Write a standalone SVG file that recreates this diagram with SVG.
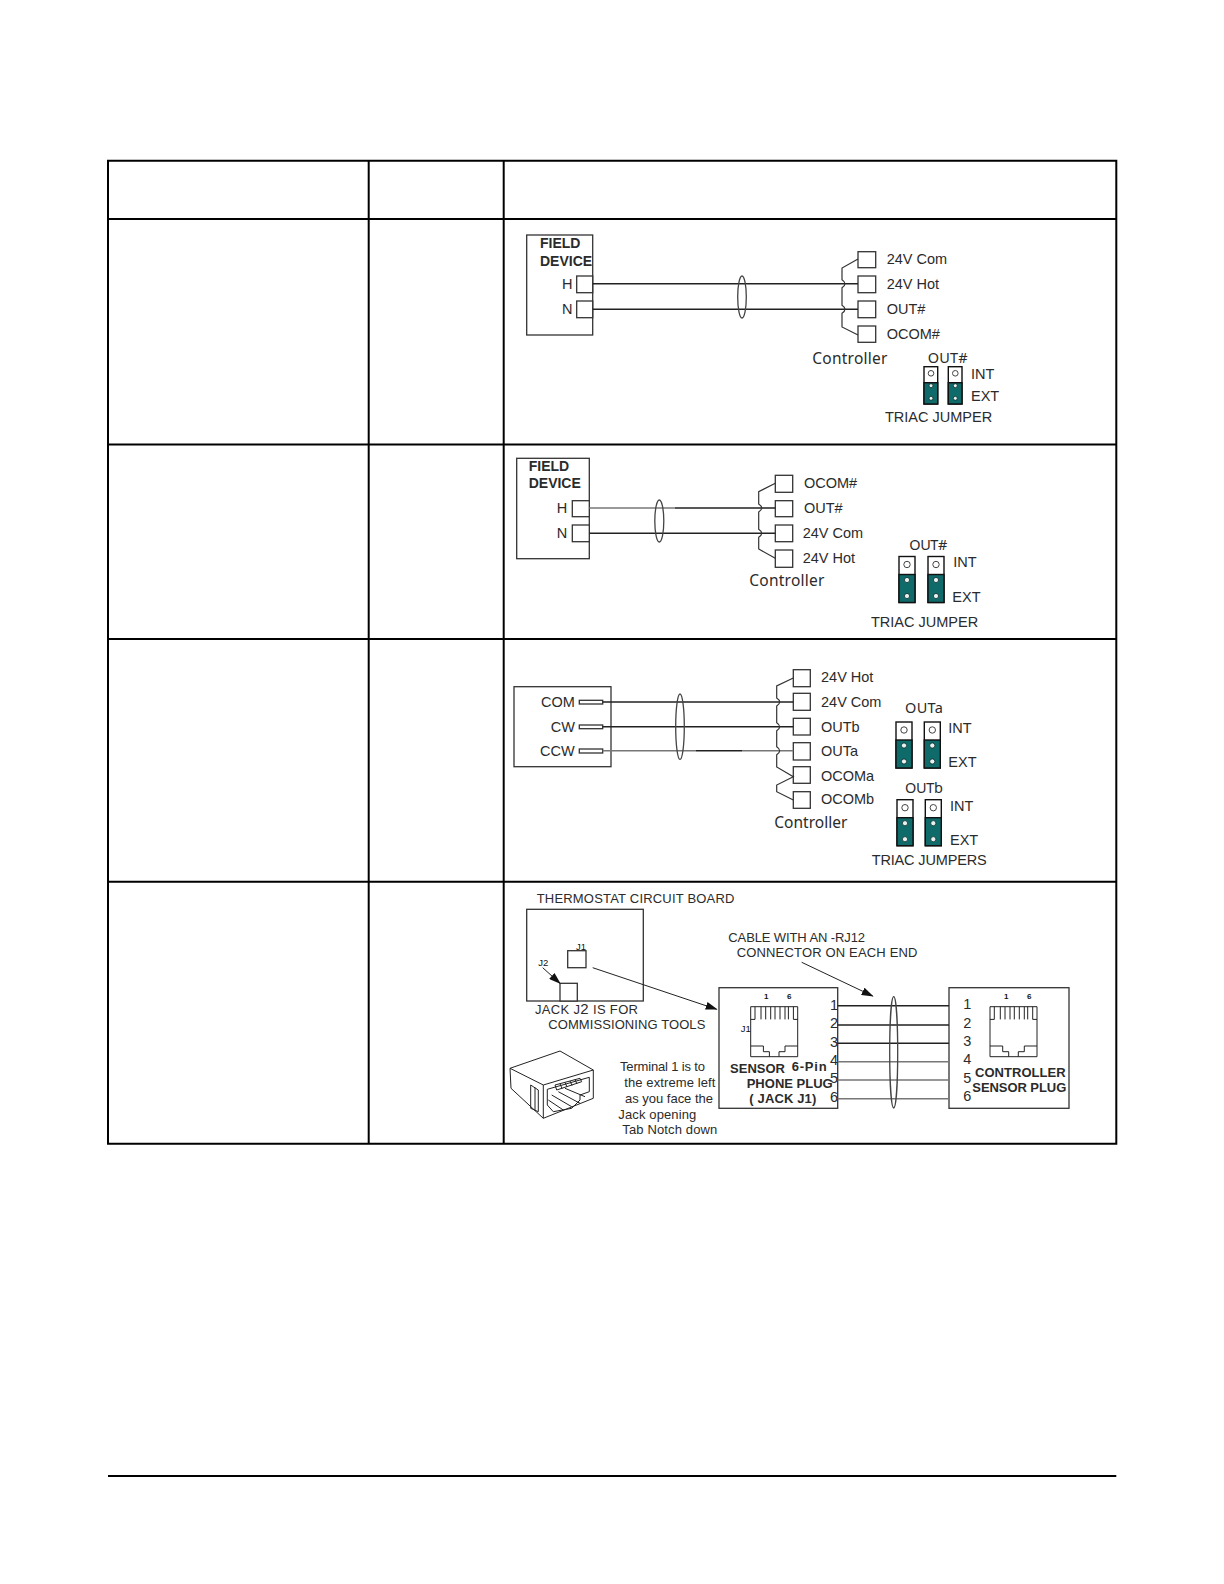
<svg xmlns="http://www.w3.org/2000/svg" width="1224" height="1584" viewBox="0 0 1224 1584">
<style>
text{font-family:"Liberation Sans",Arial,sans-serif;font-size:14.5px;fill:#2b2b2b}
.b{font-weight:bold;font-size:13px}
.c{font-family:"Noto Sans",sans-serif;font-size:14.5px}
.cc{font-family:"Noto Sans",sans-serif;font-size:15.5px}
.s{font-size:13px}
.t{font-size:8px;fill:#111}
.j{font-size:9.5px;fill:#111}
.box{fill:#fff;stroke:#333;stroke-width:1.3}
.grid{stroke:#000;stroke-width:2;fill:none}
.w{stroke:#222;stroke-width:1.4;fill:none}
.g{stroke:#777;stroke-width:1.4;fill:none}
.br{stroke:#333;stroke-width:1.2;fill:none}
.el{fill:none;stroke:#444;stroke-width:1.3}
.jb{fill:#fff;stroke:#111;stroke-width:1.4}
.jg{fill:#0f6a6a;stroke:#111;stroke-width:1.4}
.ho{fill:#fff;stroke:#444;stroke-width:1}
.hd{fill:#e8f0f0;stroke:#0a2a2a;stroke-width:.8}
.l{stroke:#222;stroke-width:1;fill:none}
</style>
<defs>
<marker id="ah" viewBox="0 0 12 8" refX="11" refY="4" markerWidth="12" markerHeight="8" markerUnits="userSpaceOnUse" orient="auto"><path d="M0,0L12,4L0,8Z" fill="#111"/></marker>
<g id="jumper">
<rect class="jb" x="0" y="0" width="16" height="46"/>
<rect class="jg" x="0" y="18" width="16" height="28"/>
<circle class="ho" cx="8" cy="8" r="3.2"/>
<circle class="hd" cx="8" cy="23.5" r="2.6"/>
<circle class="hd" cx="8" cy="39.5" r="2.6"/>
</g>
<g id="jumpersm">
<rect class="jb" x="0" y="0" width="13.7" height="37.3"/>
<rect class="jg" x="0" y="16" width="13.7" height="21.3"/>
<circle class="ho" cx="7" cy="6.6" r="2.8"/>
<circle class="hd" cx="7" cy="19" r="2"/>
<circle class="hd" cx="7" cy="31.6" r="2"/>
</g>
<g id="rj">
<path class="l" d="M0,0H47V50H0Z"/>
<path class="l" d="M0,12.7H4.3V0M42.7,0V12.7H47M10.3,0V12.7M15,0V12.7M20,0V12.7M24.3,0V12.7M29.3,0V12.7M34.3,0V12.7M37.7,0V12.7"/>
<path class="l" d="M0,39.3H12.7V45H18.7V50M47,39.3H34.3V45H28.3V50"/>
</g>
</defs>
<rect width="1224" height="1584" fill="#fff"/>

<g id="table">
<path class="grid" d="M108,160.7H1116.3V1143.7H108ZM368.7,160.7V1143.7M108,219H1116.3M108,444.5H1116.3M108,639H1116.3M108,881.7H1116.3"/>
<path class="grid" stroke-width="1" d="M503.7,160.7V1143.7"/>
<path class="grid" d="M108,1476H1116.3"/>
</g>

<g id="field-device-1">
<rect class="box" x="526.7" y="235" width="66" height="100"/>
<rect class="box" x="576.7" y="276" width="16" height="16.7"/>
<rect class="box" x="576.7" y="301" width="16" height="16.7"/>
<text class="b" x="540" y="248" style="font-size:14px">FIELD</text>
<text class="b" x="540" y="265.7" style="font-size:14px">DEVICE</text>
<text x="562" y="289">H</text>
<text x="562" y="314">N</text>
</g>
<g id="controller-1">
<rect class="box" x="858" y="251.7" width="17.7" height="16"/>
<rect class="box" x="858" y="276" width="17.7" height="16.7"/>
<rect class="box" x="858" y="301" width="17.7" height="16.7"/>
<rect class="box" x="858" y="326" width="17.7" height="16.3"/>
<text x="886.7" y="264.3">24V Com</text>
<text x="886.7" y="289">24V Hot</text>
<text x="886.7" y="314">OUT#</text>
<text x="886.7" y="339">OCOM#</text>
<text class="cc" x="812.3" y="364" textLength="75">Controller</text>
</g>
<g id="jumper-1">
<text class="c" x="927.7" y="362.7" textLength="40">OUT#</text>
<use href="#jumpersm" x="924" y="366.7"/>
<use href="#jumpersm" x="948.3" y="366.7"/>
<text x="971" y="379">INT</text>
<text x="971" y="401">EXT</text>
<text x="885" y="422.3">TRIAC JUMPER</text>
</g>

<g id="field-device-2">
<rect class="box" x="516.7" y="458.3" width="72.6" height="100.4"/>
<rect class="box" x="572.3" y="500.7" width="17" height="16"/>
<rect class="box" x="572.3" y="525" width="17" height="16.7"/>
<text class="b" x="528.7" y="470.7" style="font-size:14px">FIELD</text>
<text class="b" x="528.7" y="488.3" style="font-size:14px">DEVICE</text>
<text x="556.7" y="513.3">H</text>
<text x="556.7" y="538.3">N</text>
</g>
<g id="controller-2">
<rect class="box" x="775.3" y="475.3" width="17.4" height="17"/>
<rect class="box" x="775.3" y="500.7" width="17.4" height="16"/>
<rect class="box" x="775.3" y="525" width="17.4" height="16.7"/>
<rect class="box" x="775.3" y="550" width="17.4" height="17.3"/>
<text x="804" y="488.3">OCOM#</text>
<text x="804" y="513.3">OUT#</text>
<text x="802.7" y="538.3">24V Com</text>
<text x="802.7" y="563.3">24V Hot</text>
<text class="cc" x="749.3" y="585.7" textLength="75">Controller</text>
</g>
<g id="jumper-2">
<text class="c" x="909.3" y="550" textLength="38">OUT#</text>
<use href="#jumper" x="899" y="556.5"/>
<use href="#jumper" x="928" y="556.5"/>
<text x="953.3" y="567.3">INT</text>
<text x="952.3" y="602.3">EXT</text>
<text x="871" y="626.7">TRIAC JUMPER</text>
</g>

<g id="actuator-3">
<rect class="box" x="514" y="686.7" width="97" height="80"/>
<rect class="box" x="579.3" y="700.3" width="23.4" height="3.7"/>
<rect class="box" x="579.3" y="725" width="23.4" height="3.7"/>
<rect class="box" x="579.3" y="749" width="23.4" height="4"/>
<text x="541" y="707.3">COM</text>
<text x="550.7" y="731.7">CW</text>
<text x="540" y="755.7">CCW</text>
</g>
<g id="controller-3">
<rect class="box" x="793.3" y="669.7" width="17" height="17"/>
<rect class="box" x="793.3" y="693.3" width="17" height="17"/>
<rect class="box" x="793.3" y="718.3" width="17" height="16.7"/>
<rect class="box" x="793.3" y="742.7" width="17" height="17.3"/>
<rect class="box" x="793.3" y="766.7" width="17" height="16.6"/>
<rect class="box" x="793.3" y="791.7" width="17" height="16.6"/>
<text x="821" y="682.3">24V Hot</text>
<text x="821" y="707.3">24V Com</text>
<text x="821" y="731.7">OUTb</text>
<text x="821" y="755.7">OUTa</text>
<text x="821" y="780.7">OCOMa</text>
<text x="821" y="804.3">OCOMb</text>
<text class="cc" x="774.3" y="827.7" textLength="73">Controller</text>
</g>
<g id="jumper-3">
<text class="c" x="905" y="712.7" textLength="38">OUTa</text>
<use href="#jumper" x="896" y="722"/>
<use href="#jumper" x="924.3" y="722"/>
<text x="948.3" y="733.3">INT</text>
<text x="948.3" y="767.3">EXT</text>
<text class="c" x="905" y="792.7" textLength="38">OUTb</text>
<use href="#jumper" x="897" y="799.7"/>
<use href="#jumper" x="925.3" y="799.7"/>
<text x="950" y="810.7">INT</text>
<text x="950" y="845">EXT</text>
<text x="871.7" y="865" textLength="115">TRIAC JUMPERS</text>
</g>

<g id="thermostat-board">
<text class="s" x="536.7" y="903.3" textLength="197.7">THERMOSTAT CIRCUIT BOARD</text>
<rect class="box" x="526.7" y="909.3" width="116.6" height="91.7"/>
<rect class="box" x="567.7" y="950.7" width="18.3" height="17"/>
<rect class="box" x="560" y="983.3" width="17.3" height="17.7"/>
<text class="j" x="576" y="949.7">J1</text>
<text class="j" x="538.3" y="965.7">J2</text>
<text class="s" x="535" y="1014" textLength="103">JACK J<tspan style="font-size:15px">2</tspan> IS FOR</text>
<text class="s" x="548.3" y="1029.3" textLength="157">COMMISSIONING TOOLS</text>
</g>

<g id="jack-icon">
<path class="l" stroke-width="1.2" d="M510,1068.3L560,1051L593.3,1070V1098.3L543.3,1118.3L511,1088.3ZM510,1068.3L543.3,1085L593.3,1070M543.3,1085V1118.3"/>
<path class="l" d="M530.7,1085L538.3,1090V1111.7L530.7,1108.3ZM535,1087.5V1110"/>
<path class="l" d="M547.3,1089.3L589.3,1077.3V1091.7L580,1095V1100L571.7,1108.3L553.3,1111.7L547.3,1105Z"/>
<path class="l" d="M555,1085L580,1078.3L581.7,1081.7L556.7,1090ZM560,1083.7L562,1088.5M565,1082.5L567,1087M570,1081L572,1085.5M575,1079.7L577,1084"/>
<path class="l" d="M565,1088.3L585,1096.7M558.3,1091.7L580,1103.3M551.7,1095L571.7,1106.7M548.3,1100L563.3,1110"/>
</g>
<g id="terminal-note">
<text class="s" x="620" y="1070.7" textLength="85">Terminal 1 is to</text>
<text class="s" x="624.3" y="1086.7" textLength="91">the extreme left</text>
<text class="s" x="625" y="1102.7" textLength="88">as you face the</text>
<text class="s" x="618.3" y="1118.7" textLength="78">Jack opening</text>
<text class="s" x="622.3" y="1134" textLength="95">Tab Notch down</text>
</g>
<g id="cable-note">
<text class="s" x="728.3" y="941.7" textLength="136.7">CABLE WITH AN -RJ12</text>
<text class="s" x="736.7" y="957.3" textLength="180.7">CONNECTOR ON EACH END</text>
</g>
<g id="sensor-plug">
<rect class="box" x="719" y="987.7" width="118.7" height="120.6"/>
<use href="#rj" x="750.7" y="1006.7"/>
<text class="t" x="764" y="999.3" font-weight="bold">1</text>
<text class="t" x="787" y="999.3" font-weight="bold">6</text>
<text class="j" x="740.7" y="1032.3">J1</text>
<text class="b" x="730" y="1072.7" textLength="55">SENSOR</text>
<text class="b" x="791.7" y="1071" textLength="35">6-Pin</text>
<text class="b" x="746.7" y="1087.7" textLength="86">PHONE PLUG</text>
<text class="b" x="749.3" y="1103.3" textLength="67">( JACK J1)</text>
<text x="830" y="1010">1</text>
<text x="830" y="1028.3">2</text>
<text x="830" y="1047.3">3</text>
<text x="830" y="1065">4</text>
<text x="830" y="1083.3">5</text>
<text x="830" y="1101.7">6</text>
</g>
<g id="controller-plug">
<rect class="box" x="949" y="987.7" width="120" height="120.6"/>
<use href="#rj" x="990" y="1006.7"/>
<text class="t" x="1004" y="999.3" font-weight="bold">1</text>
<text class="t" x="1027" y="999.3" font-weight="bold">6</text>
<text class="b" x="975" y="1076.7" textLength="90.7">CONTROLLER</text>
<text class="b" x="972.3" y="1091.7" textLength="94">SENSOR PLUG</text>
<text x="963.3" y="1009.3">1</text>
<text x="963.3" y="1027.7">2</text>
<text x="963.3" y="1046">3</text>
<text x="963.3" y="1064.3">4</text>
<text x="963.3" y="1082.7">5</text>
<text x="963.3" y="1101">6</text>
</g>

<g id="connectors">
<path class="w" d="M592.7,283.7H858M592.7,309.3H858"/>
<path class="br" d="M858,259L842,268V279.7Q848,283.7 842,287.7V305.3Q848,309.3 842,313.3V327L858,335"/>
<ellipse class="el" cx="742" cy="297" rx="4.3" ry="21"/>
<path class="g" d="M589.3,508H675"/>
<path class="w" d="M675,508H775.3M589.3,533.3H775.3"/>
<path class="br" d="M775.3,483.3L758.7,491.7V504Q764.7,508 758.7,512V529.3Q764.7,533.3 758.7,537.3V549L775.3,558.3"/>
<ellipse class="el" cx="659.3" cy="521" rx="4.5" ry="21"/>
<path class="w" d="M602.7,702H793.3M602.7,726.7H793.3M696,750.7H742"/>
<path class="g" d="M602.7,750.7H696M742,750.7H793.3"/>
<path class="br" d="M793.3,678L776.7,686V698Q782.7,702 776.7,706V722.7Q782.7,726.7 776.7,730.7V746.7Q782.7,750.7 776.7,754.7V767L793.3,776.7L776.7,785V791.7L793.3,800"/>
<ellipse class="el" cx="680" cy="726.7" rx="4.3" ry="32.7"/>
<path class="w" d="M837.7,1005.7H949M837.7,1025H949M837.7,1043.3H949"/>
<path class="g" d="M837.7,1061.7H949M837.7,1080H949M837.7,1098.7H949"/>
<ellipse class="el" cx="893.7" cy="1052.3" rx="4" ry="55.7"/>
<path class="l" marker-end="url(#ah)" d="M542.7,967.7L560,983.3"/>
<path class="l" marker-end="url(#ah)" d="M592.7,967.7L716.7,1009.3"/>
<path class="l" marker-end="url(#ah)" d="M801.7,962.3L872.7,996"/>
</g>
</svg>
